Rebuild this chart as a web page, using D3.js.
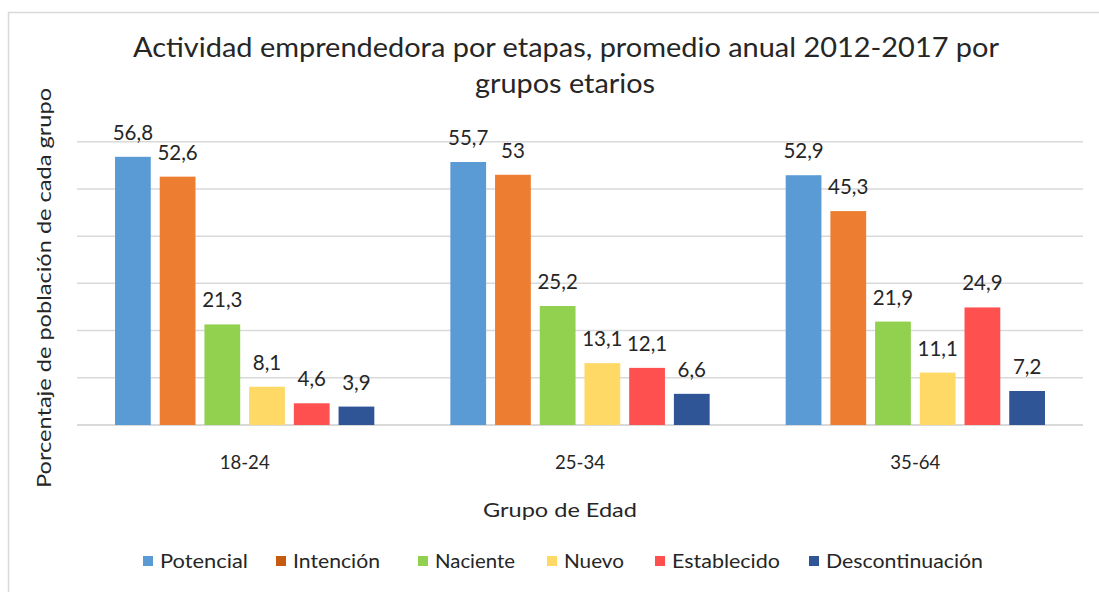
<!DOCTYPE html>
<html><head><meta charset="utf-8">
<script src="https://cdn.jsdelivr.net/npm/d3@7"></script>
<style>body{margin:0;background:#fff}svg{display:block}text{font-family:Lato,"Open Sans",sans-serif;fill:#262626}</style>
</head><body><svg id="c" width="1099" height="592"></svg>
<script>
const categories = ["18-24","25-34","35-64"];
const series = ["Potencial","Intención","Naciente","Nuevo","Establecido","Descontinuación"];
const potencial = [56.8,55.7,52.9];
const intencion = [52.6,53,45.3];
const naciente = [21.3,25.2,21.9];
const nuevo = [8.1,13.1,11.1];
const establecido = [4.6,12.1,24.9];
const descontinuacion = [3.9,6.6,7.2];
const yTicks = [0,10,20,30,40,50,60];
const colors = ["#5B9BD5","#ED7D31","#92D050","#FFD966","#FF5050","#2F5597"];
const legendColors = ["#5B9BD5","#C55A11","#92D050","#FFD966","#FF5050","#2F5597"];
const values = [potencial,intencion,naciente,nuevo,establecido,descontinuacion];

const svg = d3.select("#c");
svg.append("rect").attr("x",8.5).attr("y",12.5).attr("width",1100).attr("height",600)
  .attr("fill","#fff").attr("stroke","#d9d9d9").attr("stroke-width",1.5);

const x0 = d3.scaleBand().domain(categories).range([77,1083]).paddingInner(0.2267).paddingOuter(0.11335);
const x1 = d3.scaleBand().domain(series).range([0,x0.bandwidth()]).paddingInner(0.2).paddingOuter(0);
const y = d3.scaleLinear().domain([0,60]).range([425,141.7]);

// gridlines
svg.append("g").selectAll("line").data(yTicks).join("line")
  .attr("x1",77).attr("x2",1083).attr("y1",d=>y(d)).attr("y2",d=>y(d))
  .attr("stroke","#d9d9d9").attr("stroke-width",d=>d===0?2:1.5);

const rows = [];
categories.forEach((c,ci)=>series.forEach((s,si)=>rows.push({c,s,si,v:values[si][ci]})));

svg.append("g").selectAll("rect").data(rows).join("rect")
  .attr("x",d=>x0(d.c)+x1(d.s)).attr("width",x1.bandwidth())
  .attr("y",d=>y(d.v)).attr("height",d=>y(0)-y(d.v))
  .attr("fill",d=>colors[d.si]);

svg.append("g").selectAll("text").data(rows).join("text")
  .attr("x",d=>x0(d.c)+x1(d.s)+x1.bandwidth()/2).attr("y",d=>y(d.v)-17)
  .attr("text-anchor","middle").attr("font-size",20.5)
  .text(d=>String(d.v).replace(".",","));

// category axis labels
svg.append("g").selectAll("text").data(categories).join("text")
  .attr("x",d=>x0(d)+x0.bandwidth()/2).attr("y",469).attr("text-anchor","middle")
  .attr("font-size",19).attr("textLength",50).attr("lengthAdjust","spacingAndGlyphs").text(d=>d);

// title
const title = svg.append("text").attr("text-anchor","middle").attr("font-size",26);
title.append("tspan").attr("x",566).attr("y",57).attr("textLength",866).attr("lengthAdjust","spacingAndGlyphs")
  .text("Actividad emprendedora por etapas, promedio anual 2012-2017 por");
title.append("tspan").attr("x",565).attr("y",93).attr("textLength",180).attr("lengthAdjust","spacingAndGlyphs")
  .text("grupos etarios");

// axis titles
svg.append("text").attr("x",560).attr("y",517).attr("text-anchor","middle").attr("font-size",20)
  .attr("textLength",154).attr("lengthAdjust","spacingAndGlyphs").text("Grupo de Edad");
svg.append("text").attr("transform","translate(51,288) rotate(-90)").attr("text-anchor","middle")
  .attr("font-size",20).attr("textLength",400).attr("lengthAdjust","spacingAndGlyphs")
  .text("Porcentaje de población de cada grupo");

// legend
const legX = [143,276,418,547,655,809];
const legW = [88,87,80,60,108,157];
const lg = svg.append("g").selectAll("g").data(series).join("g")
  .attr("transform",(d,i)=>`translate(${legX[i]},562)`);
lg.append("rect").attr("x",0).attr("y",-6).attr("width",10).attr("height",10).attr("fill",(d,i)=>legendColors[i]);
lg.append("text").attr("x",17).attr("y",6).attr("font-size",18.5)
  .attr("textLength",(d,i)=>legW[i]).attr("lengthAdjust","spacingAndGlyphs").text(d=>d);
</script></body></html>
